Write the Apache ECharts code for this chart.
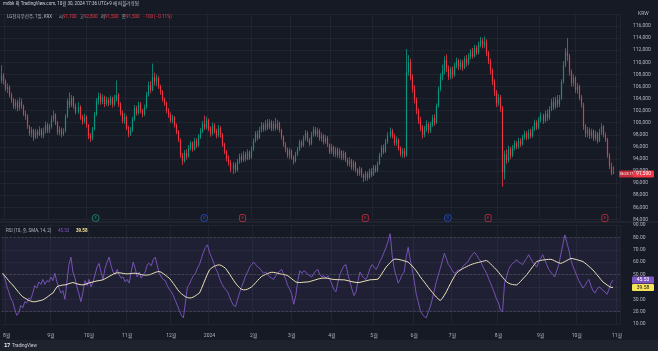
<!DOCTYPE html>
<html>
<head>
<meta charset="utf-8">
<script src="https://cdn.jsdelivr.net/npm/echarts@6/dist/echarts.min.js"></script>
<style>
html, body { margin: 0; padding: 0; background: #161a25; }
#chart { width: 658px; height: 351px; }
</style>
</head>
<body>
<div id="chart"></div>
<script>
// KRX 휴장일 (주말 제외)
var holidays = ['2023-08-15','2023-09-28','2023-09-29','2023-10-02','2023-10-03','2023-10-09',
  '2023-12-25','2023-12-29','2024-01-01','2024-02-09','2024-02-12','2024-03-01','2024-04-10',
  '2024-05-01','2024-05-06','2024-05-15','2024-06-06','2024-08-15','2024-09-16','2024-09-17',
  '2024-09-18','2024-10-01','2024-10-03','2024-10-09'];

// 일봉 [시, 종, 저, 고]
var ohlc = [
  [107000,107800,106500,109500],[107800,106900,106300,108200],[106900,105600,105200,107200],[105600,105900,104900,106500],[105900,104600,104200,106200],
  [104600,103800,103300,105000],[103800,102700,102300,104100],[102700,103400,102200,103900],[103400,102400,101900,103800],[102400,103500,102000,104200],
  [103500,102800,102300,104000],[102800,101500,101100,103000],[101500,101100,100500,102000],[101100,99400,99000,101400],[99400,98200,97800,99600],
  [98200,98800,97600,99300],[98800,97600,97000,99000],[97600,98500,97300,99000],[98500,98000,97400,98900],[98000,98900,97800,99400],
  [98900,97900,97500,99100],[97900,98600,97400,99200],[98600,99600,98200,100200],[99600,98700,98300,100000],[98700,99300,98300,99800],
  [99300,100600,99000,101200],[100600,101300,100200,102000],[101300,100000,99600,101600],[100000,98400,98000,100300],[98400,98900,97900,99400],
  [98900,98100,97600,99200],[98100,98600,97800,99100],[98600,101000,98400,101400],[101000,103600,100800,104000],[103600,102900,102400,105000],
  [102900,104100,102600,104600],[104100,102800,102300,104400],[102800,101800,101400,103200],[101800,102600,101500,103400],[102600,101000,100500,102900],
  [101000,100200,99700,101300],[100200,101000,99900,101500],[101000,99600,99200,101200],[99600,97800,97300,99800],[97800,97400,96800,98300],
  [97400,98900,97100,99300],[98900,101400,98700,101800],[101400,103600,101100,104100],[103600,104400,103000,105000],[104400,103500,103000,104900],
  [103500,104200,103100,104700],[104200,103100,102600,104500],[103100,103800,102800,104300],[103800,103200,102700,104200],[103200,104000,102900,104500],
  [104000,103000,102500,104300],[103000,103800,102700,104600],[103800,104600,103500,107000],[104600,103100,102600,104900],[103100,101600,101200,103400],
  [101600,100300,99900,102000],[100300,101000,99800,101600],[101000,99200,98800,101200],[99200,98100,97600,99500],[98100,98700,97800,99300],
  [98700,100600,98500,101000],[100600,102400,100300,102900],[102400,101600,101200,102800],[101600,103000,101300,103500],[103000,102000,101600,103400],
  [102000,101400,100900,102300],[101400,102500,101100,103000],[102500,104600,102300,105100],[104600,106200,104300,106800],[106200,105400,104900,106900],
  [105400,107600,105200,109800],[107600,106800,106200,108300],[106800,107400,106100,108000],[107400,106000,105600,107700],[106000,105100,104600,106300],
  [105100,103900,103500,105400],[103900,103200,102800,104200],[103200,102000,101600,103500],[102000,101300,100800,102400],[101300,100400,100000,101700],
  [100400,100900,99900,101300],[100900,99600,99200,101100],[99600,98500,98100,99900],[98500,97200,96800,98800],[97200,94600,94200,97400],
  [94600,93600,93000,95000],[93600,95000,93400,95500],[95000,94400,93900,95600],[94400,95800,94200,96300],[95800,96600,95400,97000],
  [96600,95600,95200,96900],[95600,97000,95400,97500],[97000,96200,95800,97400],[96200,97600,96000,98100],[97600,98600,97300,99100],
  [98600,99800,98300,100300],[99800,99200,98800,101200],[99200,100400,98900,101000],[100400,99000,98600,100700],[99000,98200,97700,99400],
  [98200,99500,97900,100000],[99500,98600,98200,99900],[98600,97900,97400,99000],[97900,99100,97600,99600],[99100,98000,97500,99400],
  [98000,96400,96000,98300],[96400,95200,94800,96700],[95200,94000,93600,95500],[94000,93400,92900,94600],[93400,92400,91800,93800],
  [92400,93000,91500,93500],[93000,92200,91700,93400],[92200,93600,91900,94000],[93600,94400,93200,94900],[94400,93800,93400,95000],
  [93800,94800,93500,95300],[94800,94000,93600,95200],[94000,95100,93800,95600],[95100,94200,93800,95400],[94200,95600,94000,96100],
  [95600,97000,95300,97400],[97000,98200,96700,98600],[98200,97500,97100,98700],[97500,98800,97300,99300],[98800,99600,98400,100100],
  [99600,98900,98500,100000],[98900,99900,98600,100400],[99900,99200,98800,100600],[99200,100100,98900,100600],[100100,99000,98600,100400],
  [99000,99800,98600,100300],[99800,99100,98700,100800],[99100,100000,98800,100500],[100000,98800,98400,100200],[98800,97600,97200,99000],
  [97600,96400,96000,97900],[96400,95600,95100,96800],[95600,94600,94200,95900],[94600,95400,94000,95800],[95400,94300,93900,95600],
  [94300,93600,93100,94600],[93600,94800,93400,95200],[94800,95600,94500,96000],[95600,96800,95300,97200],[96800,96200,95800,97100],
  [96200,97400,96000,97900],[97400,98300,97000,98800],[98300,97200,96800,98600],[97200,96500,96100,97500],[96500,98000,96300,98500],
  [98000,98900,97700,99400],[98900,98100,97700,99300],[98100,98700,97600,99200],[98700,97400,97000,99000],[97400,97900,96900,98400],
  [97900,96800,96400,98100],[96800,97500,96500,98000],[97500,96400,96000,97800],[96400,95200,94800,96600],[95200,96000,94800,96500],
  [96000,94800,94400,96200],[94800,95600,94300,96000],[95600,94600,94200,95900],[94600,95300,94100,95800],[95300,94200,93800,95500],
  [94200,95000,93800,95400],[95000,93900,93500,95200],[93900,93200,92800,94200],[93200,93800,92700,94300],[93800,92600,92200,94000],
  [92600,93400,92100,93800],[93400,92200,91800,93600],[92200,91600,91200,92500],[91600,92400,91200,92800],[92400,91300,90900,92600],
  [91300,90800,90200,91600],[90800,91600,90400,92000],[91600,90900,90400,91900],[90900,92000,90700,92400],[92000,91400,91000,92500],
  [91400,92600,91200,93000],[92600,92000,91700,93000],[92000,93200,91800,93600],[93200,94600,93000,95000],[94600,95900,94300,96300],
  [95900,95200,94800,96400],[95200,96800,95000,97300],[96800,97900,96500,98400],[97900,98600,97500,99200],[98600,97800,97400,99000],
  [97800,96600,96200,98200],[96600,97200,96200,97700],[97200,95800,95400,97400],[95800,94800,94400,96100],[94800,95400,94200,95800],
  [95400,94600,94200,95800],[94600,108400,94400,112200],[108400,110000,107800,111200],[110000,107600,107000,110600],[107600,105600,105000,108000],
  [105600,103800,103200,106200],[103800,102000,101400,104200],[102000,100400,99800,102400],[100400,99200,98600,101000],[99200,98000,97400,99600],
  [98000,98900,97600,99500],[98900,99800,98500,100400],[99800,98700,98200,100100],[98700,99600,98300,100200],[99600,100800,99300,101300],
  [100800,100000,99500,101400],[100000,102800,99800,103200],[102800,105600,102500,106000],[105600,107600,105200,108200],[107600,108500,107000,109600],
  [108500,110400,108000,111000],[110400,109000,108400,111300],[109000,107600,107100,109500],[107600,108800,107200,109200],[108800,107900,107300,109300],
  [107900,109400,107600,109900],[109400,110300,109000,110800],[110300,109200,108700,110600],[109200,110000,108800,110500],[110000,109100,108600,110400],
  [109100,110600,108900,111000],[110600,109800,109300,111200],[109800,110900,109500,111500],[110900,111800,110500,112200],[111800,111000,110600,112400],
  [111000,112400,110800,112900],[112400,111600,111200,112800],[111600,112900,111300,113400],[112900,113600,112500,114200],[113600,112800,112300,114000],
  [112800,113400,112400,114300],[113400,111600,111000,113800],[111600,110200,109700,111900],[110200,108600,108000,110600],[108600,106800,106200,109000],
  [106800,105000,104400,107200],[105000,103200,102600,105400],[103200,104200,102800,104800],[104200,102400,101800,104600],[102400,91800,89400,102800],
  [91800,94800,90600,95400],[94800,93800,93200,95600],[93800,95600,93400,96200],[95600,94600,94000,96000],[94600,95800,94300,96300],
  [95800,96600,95400,97100],[96600,96000,95600,97000],[96000,97000,95700,97500],[97000,96400,96000,97400],[96400,97600,96200,98000],
  [97600,98200,97200,98700],[98200,97500,97100,98600],[97500,98400,97200,98900],[98400,97800,97400,99000],[97800,98900,97500,99400],
  [98900,100000,98600,100500],[100000,99200,98800,100400],[99200,100400,98900,100900],[100400,101200,100000,101700],[101200,100300,99800,101500],
  [100300,101500,100000,102000],[101500,100800,100300,102200],[100800,102200,100500,102700],[102200,103400,101900,104000],[103400,102600,102100,104200],
  [102600,103800,102300,104300],[103800,103000,102500,104600],[103000,104000,102600,104600],[104000,106800,103800,107200],[106800,109600,106500,110200],
  [109600,111800,109200,112400],[111800,111000,110200,114000],[111000,108400,107800,111400],[108400,106600,106000,108800],[106600,107400,106000,108000],
  [107400,105400,104900,107700],[105400,106000,104800,106600],[106000,104200,103700,106300],[104200,103000,102500,104600],[103000,99400,98800,103300],
  [99400,98200,97600,99800],[98200,98800,97600,99300],[98800,97800,97300,99200],[97800,98600,97400,99000],[98600,97400,97000,98900],
  [97400,98200,97000,98700],[98200,97000,96600,98500],[97000,98400,96800,99000],[98400,99400,98000,99900],[99400,98000,97600,99600],
  [98000,97200,96800,98400],[97200,94600,94200,97500],[94600,92800,92300,95000],[92800,91600,91300,93400],[91700,91500,91500,92800]
];

// RSI(10)
var rsiLine = [
  51,47,41,36,31,28,22,17,19,25, 23,28,27,31,30,35,41,39,44,42,
  46,42,45,44,48,45,51,44,39,35, 37,30,44,58,64,52,47,40,34,28,
  36,45,41,46,40,44,50,56,59,52, 46,55,60,64,57,52,50,54,50,47,
  48,44,46,43,52,60,55,48,52,47, 50,52,58,59,57,62,64,57,51,48,
  46,45,41,38,36,33,29,25,21,17, 15,27,40,42,46,49,51,55,58,63,
  68,72,74,68,64,60,55,52,47,43, 40,38,36,32,28,25,24,30,35,40,
  44,49,52,56,58,60,58,56,55,53, 51,52,50,48,47,46,49,51,53,54,
  50,46,41,38,34,26,33,45,53,51, 53,52,50,49,48,51,53,54,50,48,
  49,47,49,46,42,38,36,44,50,54, 57,58,50,44,38,33,36,45,52,49,
  47,46,50,55,58,56,54,57,61,64, 68,72,77,83,66,55,49,43,46,50,
  52,64,72,62,54,45,34,28,21,18, 16,15,20,24,30,37,44,50,55,61,
  67,63,58,56,53,51,52,54,53,56, 58,59,61,64,66,68,66,63,61,57,
  54,51,47,43,39,35,30,27,21,20, 43,48,54,57,59,60,62,60,59,58,
  61,63,66,63,60,58,56,60,63,66, 62,58,54,52,50,48,53,58,66,74,
  82,76,70,62,57,53,49,45,42,39, 41,44,46,41,37,35,38,40,39,37,
  36,34,38,43,45.53
];

// RSI 기반 SMA(14)
var rsiSma = [
  51,49,47,45,43,41.6,39.5,37.5,35.5,33.5, 32,31,30,29,28.5,28,28,28.3,28.7,29,
  29.5,30.5,31.5,32.8,34,35,37.5,40,40.8,41.2, 41.5,41.6,42,42.6,43.1,43.5,43,42.5,42,41.7,
  41.6,42,42.6,43.2,43.6,44,44.4,44.8,45.1,45.4, 45.7,46.6,47.5,48.4,49.3,50.2,51,51.3,51.4,51.2,
  50.9,50.6,50.5,50.6,50.8,51,51,50.8,50.4,50, 49.6,49.5,49.6,49.7,50.3,51,51.7,52.2,52.4,51.8,
  50.7,49.5,48.2,47,45,42.8,40.5,38.2,36,34.5, 33.2,32.1,31.4,31,31.2,31.8,32.8,33.9,35,38.5,
  42.5,46.5,50.4,53.7,55.2,56.3,57.1,57.6,57.8,57.2, 56.2,55,52.8,50.3,47.8,45.3,43,41,39.3,38,
  37.6,37.7,38.2,39,40,41.6,43.4,45.2,46.9,48.4, 49.3,50.1,50.8,51.4,51.8,51.7,51.4,51,50.6,50.2,
  49.9,49.7,49,47.8,46.5,45.2,44,43.6,43.5,43.6, 43.8,43.9,44,44.3,44.8,45.3,45.8,46.3,46.7,47,
  47.1,47.1,46.9,46.5,46.2,46,45.9,45.8,45.8,45.7, 45.7,45.4,45,44.6,44.2,43.9,43.6,43.5,43.7,44.1,
  44.5,44.9,45.3,45.7,45.8,45.9,46,46.3,48.5,51, 53.5,56,57.8,59.6,61.2,62.3,62.4,62.2,61.9,61.5,
  61,60.6,60,58.5,56.8,55,53,50.6,48.2,46, 44,41.8,39.6,37.6,35.6,33.6,31.8,30.2,29,30.8,
  33.3,36,39.3,42.5,45.5,48.4,51,52.4,53.6,54.6, 55.5,56.3,57.1,57.8,58.4,58.9,59.4,59.8,60.2,60.6,
  61,61.3,60.2,58.6,57,55.4,53.7,51.8,49.8,47.8, 45.8,44,43,42.3,41.9,41.7,41.6,42.8,44.5,46.3,
  48,49.7,51.9,54.1,56.3,58.4,60.5,61,61.4,61.7, 61.9,62.1,62.2,62.3,61.8,61,60.2,59.5,59,59.6,
  60.4,61.3,62.2,63,62.8,62.4,62,61.5,61,60.5, 59.3,58,56.6,55.1,53.7,51.8,49.8,47.9,45.9,44,
  42.8,41.6,40.5,39.6,39.58
];

// 이벤트 (배당/실적)
var events = [
  ['2023-10-11', 'E', '#22ab94'],
  ['2023-12-27', 'D', '#2962ff'],
  ['2024-01-25', 'E', '#f23645'],
  ['2024-04-25', 'E', '#f23645'],
  ['2024-06-27', 'D', '#2962ff'],
  ['2024-07-25', 'E', '#f23645'],
  ['2024-10-24', 'E', '#f23645']
];

function tradingDays(from, to) {
  var out = [];
  var d = new Date(from + 'T00:00:00Z');
  var end = new Date(to + 'T00:00:00Z');
  while (d <= end) {
    var wd = d.getUTCDay();
    var s = d.toISOString().slice(0, 10);
    if (wd !== 0 && wd !== 6 && holidays.indexOf(s) < 0) out.push(s);
    d.setUTCDate(d.getUTCDate() + 1);
  }
  return out;
}
var dates = tradingDays('2023-07-28', '2024-11-04');

function isMonthStart(i) {
  if (i === 0) return false;
  return dates[i].slice(5, 7) !== dates[i - 1].slice(5, 7);
}
function monthLabel(s) {
  var m = +s.slice(5, 7);
  return m === 1 ? s.slice(0, 4) : m + '월';
}

var upColor = '#089981', downColor = '#f23645';
var gridLine = 'rgba(42,46,57,0.55)';
var textColor = '#b2b5be';
var font = 'Roboto, "Noto Sans CJK KR", sans-serif';

var chart = echarts.init(document.getElementById('chart'));

var xCommon = {
  type: 'category',
  data: dates,
  boundaryGap: true,
  axisLine: { show: false },
  axisTick: { show: false },
  splitLine: { show: true, interval: function (i) { return isMonthStart(i); }, lineStyle: { color: gridLine, width: 1 } }
};

// 캔들: 심지 + 몸통
function renderCandle(params, api) {
  var i = api.value(0);
  var o = api.value(1), c = api.value(2), l = api.value(3), h = api.value(4);
  var pO = api.coord([i, o]), pC = api.coord([i, c]);
  var pL = api.coord([i, l]), pH = api.coord([i, h]);
  var color = c >= o ? upColor : downColor;
  var x = Math.round(pO[0]) + 0.5;
  var top = Math.min(pO[1], pC[1]);
  var bh = Math.max(Math.abs(pO[1] - pC[1]), 1);
  return {
    type: 'group',
    children: [
      { type: 'line', shape: { x1: x, y1: pH[1], x2: x, y2: pL[1] }, style: { stroke: color, lineWidth: 1, opacity: 0.8 } },
      { type: 'rect', shape: { x: x - 0.6, y: top, width: 1.2, height: bh }, style: { fill: color, opacity: 0.9 } }
    ]
  };
}

chart.setOption({
  backgroundColor: '#161a25',
  animation: false,
  textStyle: { fontFamily: font },
  grid: [
    { left: 0, right: 38, top: 14, height: 205.4 },
    { left: 0, right: 38, top: 212, height: 12 },
    { left: 0, right: 38, top: 225, height: 99 }
  ],
  xAxis: [
    Object.assign({}, xCommon, { gridIndex: 0, axisLabel: { show: false } }),
    Object.assign({}, xCommon, { gridIndex: 1, show: false }),
    Object.assign({}, xCommon, {
      gridIndex: 2,
      offset: 5,
      axisLabel: {
        show: true,
        interval: function (i) { return isMonthStart(i); },
        formatter: function (v) { return monthLabel(v); },
        color: textColor, fontSize: 5, margin: 4, fontFamily: font
      }
    })
  ],
  yAxis: [
    {
      gridIndex: 0, type: 'value', position: 'right', min: 84000, max: 118000, interval: 2000,
      axisLine: { show: false }, axisTick: { show: false },
      splitLine: { show: true, lineStyle: { color: gridLine } },
      axisLabel: {
        color: textColor, fontSize: 5, margin: 13, showMaxLabel: false, fontFamily: font,
        formatter: function (v) { return v.toLocaleString('en-US'); }
      }
    },
    { gridIndex: 1, type: 'value', min: 0, max: 1, show: false },
    {
      gridIndex: 2, type: 'value', position: 'right', min: 10, max: 90, interval: 10,
      axisLine: { show: false }, axisTick: { show: false },
      splitLine: { show: true, lineStyle: { color: gridLine } },
      axisLabel: {
        color: textColor, fontSize: 5, margin: 13, fontFamily: font,
        formatter: function (v) { return v === 40 ? '' : v.toFixed(2); }
      }
    }
  ],
  series: [
    {
      type: 'custom',
      name: 'LG전자우',
      xAxisIndex: 0, yAxisIndex: 0,
      data: ohlc.map(function (d, i) { return [i, d[0], d[1], d[2], d[3]]; }),
      encode: { x: 0, y: [1, 2, 3, 4] },
      renderItem: renderCandle
    },
    {
      type: 'scatter',
      xAxisIndex: 1, yAxisIndex: 1,
      data: events.map(function (e) {
        return {
          value: [e[0], 0.5],
          symbol: e[2] === '#f23645' ? 'roundRect' : 'circle',
          symbolSize: e[2] === '#f23645' ? [6, 7] : 7,
          itemStyle: { color: 'rgba(22,26,37,0.9)', borderColor: e[2], borderWidth: 0.8 },
          label: { show: true, position: 'inside', formatter: e[1], color: e[2], fontSize: 4, fontFamily: font }
        };
      })
    },
    {
      type: 'line',
      name: 'RSI',
      xAxisIndex: 2, yAxisIndex: 2,
      data: rsiLine,
      showSymbol: false,
      lineStyle: { color: '#7e57c2', width: 0.9 },
      markArea: {
        silent: true,
        itemStyle: { color: 'rgba(126,87,194,0.1)' },
        data: [[{ yAxis: 20 }, { yAxis: 80 }]]
      },
      markLine: {
        silent: true, symbol: 'none', label: { show: false },
        lineStyle: { color: 'rgba(120,123,134,0.45)', type: [2, 2], width: 0.8 },
        data: [{ yAxis: 80 }, { yAxis: 50 }, { yAxis: 20 }]
      }
    },
    {
      type: 'line',
      name: 'RSI-based MA',
      xAxisIndex: 2, yAxisIndex: 2,
      data: rsiSma,
      showSymbol: false,
      lineStyle: { color: '#ebe3b9', width: 1 }
    }
  ]
});

// 축 위 가격/지표 라벨
var last = ohlc[ohlc.length - 1];
var yPrice = chart.convertToPixel({ yAxisIndex: 0 }, last[1]);
var rsiLast = rsiLine[rsiLine.length - 1];
var smaLast = rsiSma[rsiSma.length - 1];
var yRsi = chart.convertToPixel({ yAxisIndex: 2 }, rsiLast);
var ySma = chart.convertToPixel({ yAxisIndex: 2 }, smaLast);

function tag(y, text, fill, color) {
  return {
    type: 'group', left: 632, top: y - 3.5,
    children: [
      { type: 'rect', shape: { x: 0, y: 0, width: 22, height: 7, r: 1 }, style: { fill: fill } },
      { type: 'text', style: { x: 11, y: 3.5, text: text, fill: color, font: '5px ' + font, textAlign: 'center', textVerticalAlign: 'middle' } }
    ]
  };
}

chart.setOption({
  graphic: [
    { type: 'rect', shape: { x: 0, y: 340, width: 658, height: 11 }, style: { fill: '#1e222d' }, z: -1 },
    { type: 'line', shape: { x1: 0, y1: 222, x2: 658, y2: 222 }, style: { stroke: '#2a2e39', lineWidth: 1 } },
    { type: 'text', left: 3, top: 2, style: { text: 'mdbk 의 TradingView.com, 10월 30, 2024 17:36 UTC+9 에 퍼블리쉬됨', fill: '#d1d4dc', font: '4.5px ' + font } },
    {
      type: 'text', left: 7, top: 11,
      style: {
        text: '{g|LG전자우선주, 1일, KRX}  {g|시}{r|91,700} {g|고}{r|92,800} {g|저}{r|91,500} {g|종}{r|91,500} {r|−100 (−0.11%)}',
        rich: {
          g: { fill: textColor, font: '4.5px ' + font },
          r: { fill: downColor, font: '4.5px ' + font }
        }
      }
    },
    {
      type: 'text', left: 6, top: 225,
      style: {
        text: '{g|RSI (10, 종, SMA, 14, 2)}  {p|' + rsiLast.toFixed(2) + '}  {y|' + smaLast.toFixed(2) + '}',
        rich: {
          g: { fill: textColor, font: '4.5px ' + font },
          p: { fill: '#7e57c2', font: '4.5px ' + font },
          y: { fill: '#f7e39a', font: 'bold 4.5px ' + font }
        }
      }
    },
    { type: 'text', left: 638, top: 11, style: { text: 'KRW', fill: textColor, font: '5px ' + font } },
    {
      type: 'group', left: 619, top: yPrice - 3.5,
      children: [
        { type: 'rect', shape: { x: 0, y: 0, width: 15, height: 7, r: 1 }, style: { fill: '#c12d3b' } },
        { type: 'text', style: { x: 7.5, y: 3.5, text: '06:23:17', fill: '#fff', font: '3.5px ' + font, textAlign: 'center', textVerticalAlign: 'middle' } },
        { type: 'rect', shape: { x: 14, y: 0, width: 21, height: 7, r: 1 }, style: { fill: downColor } },
        { type: 'text', style: { x: 24.5, y: 3.5, text: last[1].toLocaleString('en-US'), fill: '#fff', font: '5px ' + font, textAlign: 'center', textVerticalAlign: 'middle' } }
      ]
    },
    tag(yRsi, rsiLast.toFixed(2), '#7e57c2', '#fff'),
    tag(ySma, smaLast.toFixed(2), '#f7e35a', '#131722'),
    { type: 'text', left: 4, top: 343, style: { text: '𝟭𝟳', fill: '#d1d4dc', font: 'bold 5px ' + font } },
    { type: 'text', left: 12, top: 343.5, style: { text: 'TradingView', fill: '#d1d4dc', font: '4.5px ' + font } }
  ]
});
</script>
</body>
</html>
